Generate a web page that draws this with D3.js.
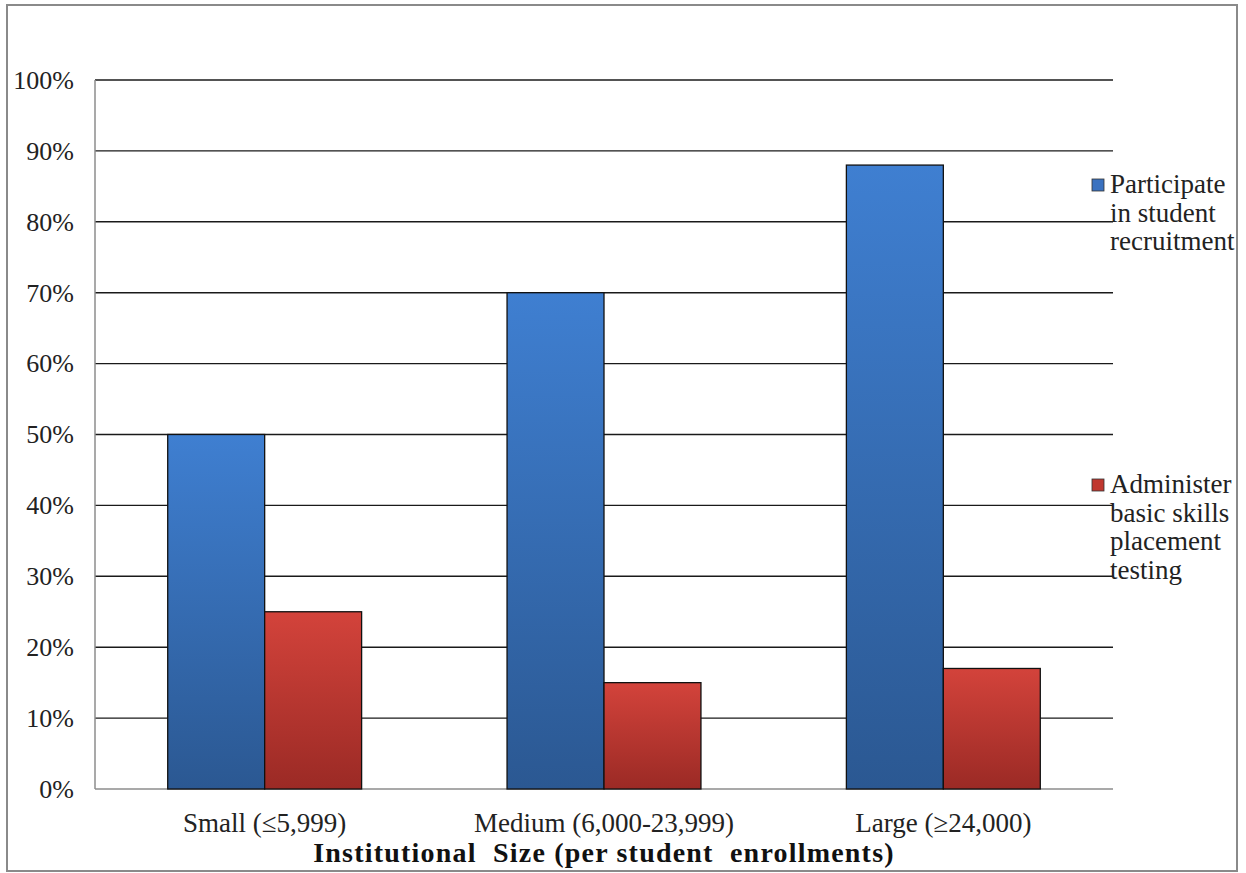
<!DOCTYPE html>
<html>
<head>
<meta charset="utf-8">
<script src="https://cdn.jsdelivr.net/npm/d3@7"></script>
<style>
  body { margin: 0; background: #fff; }
  svg { display: block; }
</style>
</head>
<body>
<svg id="chart" width="1246" height="873"></svg>
<script>
// Share of institutions by size
const categories = ["Small (\u22645,999)", "Medium (6,000-23,999)", "Large (\u226524,000)"];
const seriesNames = ["Participate in student recruitment", "Administer basic skills placement testing"];
const recruitment = [0.50, 0.70, 0.88];
const placementTesting = [0.25, 0.15, 0.17];
const yTicks = [0, 0.1, 0.2, 0.3, 0.4, 0.5, 0.6, 0.7, 0.8, 0.9, 1.0];
const legendLines = [["Participate", "in student", "recruitment"], ["Administer", "basic skills", "placement", "testing"]];
const axisTitle = "Institutional\u00a0 Size (per student\u00a0 enrollments)";

const FONT = "'Liberation Serif', 'Times New Roman', Tinos, 'DejaVu Serif', serif";
const svg = d3.select("#chart").attr("font-family", FONT);
const plot = { left: 95, right: 1113, top: 80, bottom: 789 };

// outer frame
svg.append("rect").attr("x", 7).attr("y", 5).attr("width", 1230).attr("height", 866)
  .attr("fill", "#fff").attr("stroke", "#8a8a8a").attr("stroke-width", 2);

const x0 = d3.scaleBand().domain(categories).range([plot.left, plot.right]).paddingInner(0).paddingOuter(0);
const x1 = d3.scaleBand().domain(seriesNames).range([0, x0.bandwidth()]).paddingInner(0).paddingOuter(0.75);
const y = d3.scaleLinear().domain([0, 1]).range([plot.bottom, plot.top]);

const defs = svg.append("defs");
function grad(id, top, bottom) {
  const g = defs.append("linearGradient").attr("id", id).attr("x1", 0).attr("y1", 0).attr("x2", 0).attr("y2", 1);
  g.append("stop").attr("offset", "0%").attr("stop-color", top);
  g.append("stop").attr("offset", "100%").attr("stop-color", bottom);
}
grad("gBlue", "#3f7fd1", "#2b5892");
grad("gRed", "#d3433b", "#9b2a25");
const fills = ["url(#gBlue)", "url(#gRed)"];
const swatch = ["#3a72c0", "#c0372f"];

// gridlines
svg.append("g").attr("class", "grid")
  .selectAll("line").data(yTicks.filter(d => d > 0)).join("line")
  .attr("x1", plot.left).attr("x2", plot.right)
  .attr("y1", d => y(d)).attr("y2", d => y(d))
  .attr("stroke", "#1a1a1a").attr("stroke-width", 1.4);

// y axis labels
const yAxis = d3.axisLeft(y).tickValues(yTicks).tickFormat(d3.format(".0%")).tickSize(0).tickPadding(0);
const ya = svg.append("g").attr("transform", `translate(${plot.left - 21},0)`).call(yAxis);
ya.attr("font-family", FONT).attr("font-size", 26);
ya.select(".domain").remove();
ya.selectAll("text").attr("dy", "0.32em").attr("fill", "#222");

// axis lines
svg.append("line").attr("x1", plot.left).attr("x2", plot.left).attr("y1", plot.top).attr("y2", plot.bottom)
  .attr("stroke", "#8c8c8c").attr("stroke-width", 1.5);
svg.append("line").attr("x1", plot.left).attr("x2", plot.right).attr("y1", plot.bottom).attr("y2", plot.bottom)
  .attr("stroke", "#8c8c8c").attr("stroke-width", 1.5);

// bars
const series = [recruitment, placementTesting];
const rows = categories.map((c, i) => ({ c, vals: series.map((s, k) => ({ k, v: s[i] })) }));
svg.append("g").selectAll("g").data(rows).join("g")
  .attr("transform", d => `translate(${x0(d.c)},0)`)
  .selectAll("rect").data(d => d.vals).join("rect")
  .attr("x", d => x1(seriesNames[d.k]))
  .attr("width", x1.bandwidth())
  .attr("y", d => y(d.v))
  .attr("height", d => y(0) - y(d.v))
  .attr("fill", d => fills[d.k])
  .attr("stroke", "#111").attr("stroke-width", 1.3);

// category labels
const xa = svg.append("g").attr("transform", `translate(0,${plot.bottom})`)
  .call(d3.axisBottom(x0).tickSize(0).tickPadding(0));
xa.attr("font-family", FONT).attr("font-size", 27);
xa.select(".domain").remove();
xa.selectAll("text").attr("y", 43).attr("dy", 0).attr("fill", "#222");

// axis title
svg.append("text").attr("x", (plot.left + plot.right) / 2).attr("y", 862)
  .attr("text-anchor", "middle").attr("font-size", 28).attr("font-weight", "bold")
  .attr("letter-spacing", 1.2)
  .attr("fill", "#111").text(axisTitle);

// legend
const legendTop = [193, 493];
legendLines.forEach((lines, k) => {
  const g = svg.append("g");
  g.append("rect").attr("x", 1092).attr("y", legendTop[k] - 14).attr("width", 12).attr("height", 12)
    .attr("fill", swatch[k]).attr("stroke", "#333").attr("stroke-width", 0.8);
  lines.forEach((t, i) => {
    g.append("text").attr("x", 1110).attr("y", legendTop[k] + i * 28.5)
      .attr("font-size", 27).attr("fill", "#222").text(t);
  });
});
</script>
</body>
</html>
